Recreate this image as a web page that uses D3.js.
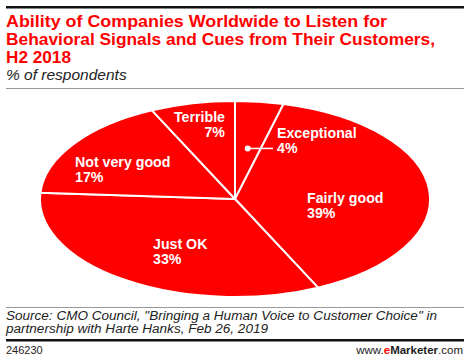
<!DOCTYPE html>
<html>
<head>
<meta charset="utf-8">
<script src="https://cdn.jsdelivr.net/npm/d3@7"></script>
<style>
  html, body { margin: 0; padding: 0; background: #fff; }
  svg { display: block; font-family: "Liberation Sans", Arial, sans-serif; }
</style>
</head>
<body>
<div id="chart"></div>
<script>
// data
const categories = ["Exceptional", "Fairly good", "Just OK", "Not very good", "Terrible"];
const values = [4, 39, 33, 17, 7];
const titleLines = [
    "Ability of Companies Worldwide to Listen for",
    "Behavioral Signals and Cues from Their Customers,",
    "H2 2018"
];
const subtitle = "% of respondents";
const sourceLines = [
    "Source: CMO Council, \"Bringing a Human Voice to Customer Choice\" in",
    "partnership with Harte Hanks, Feb 26, 2019"
];
const chartId = "246230";

const width = 470, height = 362;
const red = "#ff0000";

const svg = d3.select("#chart").append("svg")
    .attr("width", width)
    .attr("height", height);

// header
svg.append("rect").attr("x", 6).attr("y", 6).attr("width", 458).attr("height", 2.5).attr("fill", "#111");
const titleWidths = [381, 429, 65];
svg.append("g").selectAll("text")
    .data(titleLines)
    .enter().append("text")
    .attr("x", 6)
    .attr("y", (d, i) => 27 + i * 18)
    .attr("textLength", (d, i) => titleWidths[i])
    .attr("lengthAdjust", "spacingAndGlyphs")
    .attr("fill", red)
    .style("font-size", "16.6px")
    .style("font-weight", "bold")
    .text(d => d);
svg.append("text")
    .attr("x", 6).attr("y", 80)
    .style("font-size", "15.5px")
    .style("font-style", "italic")
    .attr("fill", "#222")
    .text(subtitle);
svg.append("rect").attr("x", 6).attr("y", 88).attr("width", 458).attr("height", 1).attr("fill", "#999");

// flattened pie
const cx = 235, cy = 199, rx = 195, ry = 98;
const pie = d3.pie().sort(null).value(d => d);
const arc = d3.arc().innerRadius(0).outerRadius(rx);
const arcs = pie(values);

const pieG = svg.append("g")
    .attr("transform", `translate(${cx},${cy}) scale(1,${ry / rx})`);
pieG.selectAll("path")
    .data(arcs)
    .enter().append("path")
    .attr("d", arc)
    .attr("fill", red)
    .attr("stroke", "#fff")
    .attr("stroke-width", 2)
    .attr("vector-effect", "non-scaling-stroke");

// label placement (relative to the ellipse centre)
const labelPos = [
    { x: 42, y: -61, anchor: "start" },
    { x: 72, y: 4, anchor: "start" },
    { x: -82, y: 50, anchor: "start" },
    { x: -160, y: -32, anchor: "start" },
    { x: -10, y: -77, anchor: "end" }
];

const labels = svg.append("g").selectAll("text")
    .data(arcs)
    .enter().append("text")
    .attr("x", (d, i) => cx + labelPos[i].x)
    .attr("y", (d, i) => cy + labelPos[i].y)
    .attr("text-anchor", (d, i) => labelPos[i].anchor)
    .attr("fill", "#fff")
    .style("font-size", "14.2px")
    .style("font-weight", "bold");
labels.append("tspan").text((d, i) => categories[i]);
labels.append("tspan")
    .attr("x", (d, i) => cx + labelPos[i].x)
    .attr("dy", 15)
    .text(d => d.data + "%");

// leader for the small slice: dot at the slice's mid angle, half way out
const small = arcs[0];
const mid = (small.startAngle + small.endAngle) / 2;
const dotX = cx + Math.sin(mid) * rx * 0.52;
const dotY = cy - Math.cos(mid) * ry * 0.52;
svg.append("line")
    .attr("x1", dotX).attr("y1", dotY)
    .attr("x2", cx + 38).attr("y2", dotY)
    .attr("stroke", "#fff").attr("stroke-width", 1.5);
svg.append("circle")
    .attr("cx", dotX).attr("cy", dotY).attr("r", 3)
    .attr("fill", "#fff");

// footer
svg.append("rect").attr("x", 6).attr("y", 307).attr("width", 458).attr("height", 1).attr("fill", "#999");
const sourceWidths = [431, 262];
svg.append("g").selectAll("text")
    .data(sourceLines)
    .enter().append("text")
    .attr("x", 6)
    .attr("y", (d, i) => 320 + i * 13)
    .attr("textLength", (d, i) => sourceWidths[i])
    .attr("lengthAdjust", "spacingAndGlyphs")
    .style("font-size", "12.5px")
    .style("font-style", "italic")
    .attr("fill", "#222")
    .text(d => d);
svg.append("rect").attr("x", 6).attr("y", 339).attr("width", 458).attr("height", 2.5).attr("fill", "#111");
svg.append("text")
    .attr("x", 6).attr("y", 354)
    .style("font-size", "11px")
    .attr("fill", "#222")
    .text(chartId);
const brand = svg.append("text")
    .attr("x", 463).attr("y", 354)
    .attr("text-anchor", "end")
    .style("font-size", "11.5px")
    .attr("fill", "#222");
brand.append("tspan").text("www.");
brand.append("tspan").attr("fill", red).style("font-weight", "bold").text("e");
brand.append("tspan").style("font-weight", "bold").text("Marketer");
brand.append("tspan").text(".com");
</script>
</body>
</html>
